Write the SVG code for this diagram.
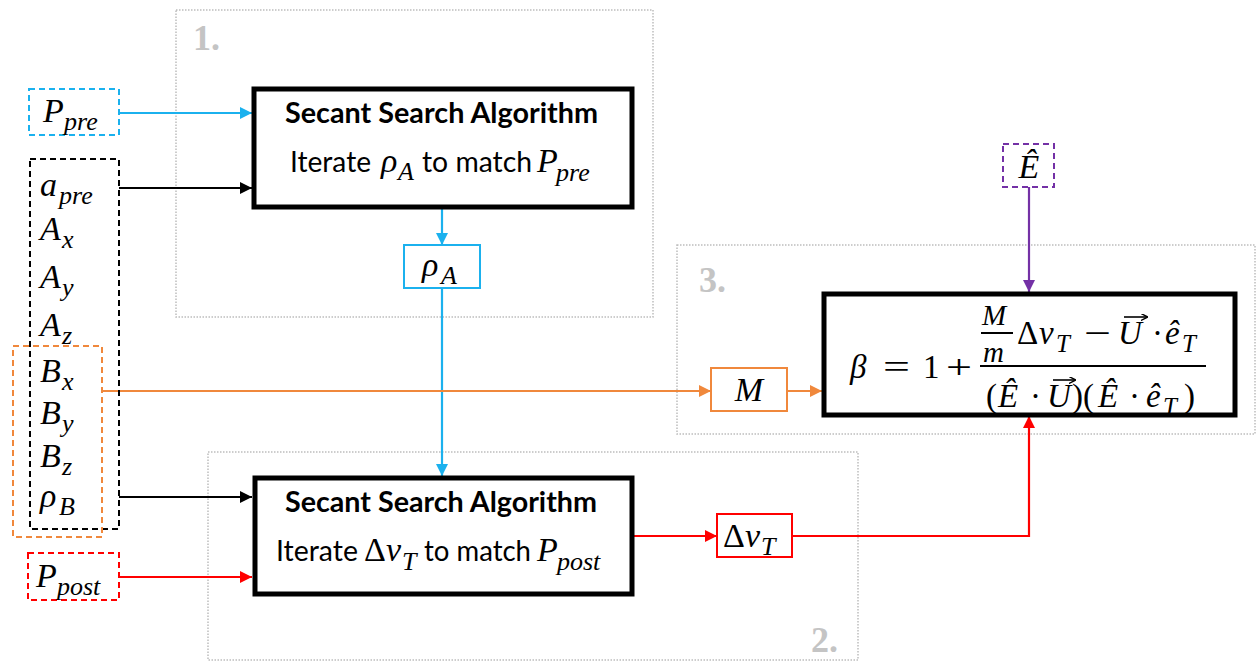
<svg xmlns="http://www.w3.org/2000/svg" width="1257" height="662" viewBox="0 0 1257 662">
<defs>
<style>
.region{fill:none;stroke:#bdbdbd;stroke-width:1.5;stroke-dasharray:1.5 1.5}
.rlabel{font-family:"Liberation Serif",serif;font-weight:bold;font-size:36px;fill:#c4c4c4}
.algo{fill:#fff;stroke:#000;stroke-width:5}
.sans{font-family:Lato,"Open Sans",sans-serif;font-size:28px;fill:#000}
.bold{font-weight:bold}
.m{font-family:"Liberation Serif",serif;font-style:italic;font-size:34px;fill:#000}
.u{font-family:"Liberation Serif",serif;font-style:normal;font-size:34px;fill:#000}
.s{font-size:26px}
.f{font-size:33px}
.fr{font-size:29px}
.fs{font-size:25px}
.dash{fill:#fff;stroke-width:2;stroke-dasharray:6 4}
.ln{fill:none;stroke-width:2.2}
</style>
<marker id="ab" viewBox="0 0 10 10" refX="10" refY="5" markerWidth="12" markerHeight="12" markerUnits="userSpaceOnUse" orient="auto"><path d="M0,0L10,5L0,10z" fill="#1bb1ee"/></marker>
<marker id="ak" viewBox="0 0 10 10" refX="10" refY="5" markerWidth="12" markerHeight="12" markerUnits="userSpaceOnUse" orient="auto"><path d="M0,0L10,5L0,10z" fill="#000"/></marker>
<marker id="ao" viewBox="0 0 10 10" refX="10" refY="5" markerWidth="12" markerHeight="12" markerUnits="userSpaceOnUse" orient="auto"><path d="M0,0L10,5L0,10z" fill="#f0883c"/></marker>
<marker id="ar" viewBox="0 0 10 10" refX="10" refY="5" markerWidth="12" markerHeight="12" markerUnits="userSpaceOnUse" orient="auto"><path d="M0,0L10,5L0,10z" fill="#ff0000"/></marker>
<marker id="ap" viewBox="0 0 10 10" refX="10" refY="5" markerWidth="12" markerHeight="12" markerUnits="userSpaceOnUse" orient="auto"><path d="M0,0L10,5L0,10z" fill="#7431a6"/></marker>
<marker id="vec" viewBox="0 0 8 8" refX="7" refY="4" markerWidth="7" markerHeight="7" markerUnits="userSpaceOnUse" orient="auto"><path d="M0,0L8,4L0,8" fill="none" stroke="#000" stroke-width="1.6"/></marker>
</defs>
<rect width="1257" height="662" fill="#fff"/>

<g id="region1">
<rect class="region" x="176" y="10" width="477" height="307"/>
<text class="rlabel" x="193" y="50">1.</text>
</g>
<g id="region2">
<rect class="region" x="208" y="452" width="650" height="208"/>
<text class="rlabel" x="811" y="652">2.</text>
</g>
<g id="region3">
<rect class="region" x="677" y="245" width="578" height="189"/>
<text class="rlabel" x="699" y="292">3.</text>
</g>

<g id="connectors">
<line class="ln" stroke="#1bb1ee" x1="119" y1="113" x2="252" y2="113" marker-end="url(#ab)"/>
<line class="ln" stroke="#000" x1="119" y1="188" x2="252" y2="188" marker-end="url(#ak)"/>
<line class="ln" stroke="#1bb1ee" x1="442" y1="209" x2="442" y2="245" marker-end="url(#ab)"/>
<line class="ln" stroke="#1bb1ee" x1="442" y1="288" x2="442" y2="476" marker-end="url(#ab)"/>
<line class="ln" stroke="#f0883c" x1="102" y1="391" x2="711" y2="391" marker-end="url(#ao)"/>
<line class="ln" stroke="#f0883c" x1="787" y1="391" x2="822" y2="391" marker-end="url(#ao)"/>
<line class="ln" stroke="#000" x1="119" y1="497" x2="252" y2="497" marker-end="url(#ak)"/>
<line class="ln" stroke="#ff0000" x1="119" y1="577" x2="252" y2="577" marker-end="url(#ar)"/>
<line class="ln" stroke="#ff0000" x1="633" y1="536" x2="717" y2="536" marker-end="url(#ar)"/>
<polyline class="ln" stroke="#ff0000" points="792,536 1029,536 1029,416" marker-end="url(#ar)"/>
<line class="ln" stroke="#7431a6" x1="1029" y1="187" x2="1029" y2="292" marker-end="url(#ap)"/>
</g>

<g id="P_pre">
<rect class="dash" stroke="#1bb1ee" x="29" y="89" width="90" height="46"/>
<text class="m" x="43" y="122">P<tspan class="s" x="64" y="130">pre</tspan></text>
</g>

<g id="params_A">
<rect class="dash" stroke="#000" x="30" y="159" width="89" height="370" style="fill:none"/>
</g>
<g id="params_B">
<rect class="dash" stroke="#f0883c" x="13" y="346" width="89" height="191" style="fill:none"/>
</g>
<g id="param_labels">
<text class="m" x="40" y="196">a<tspan class="s" x="59" y="204">pre</tspan></text>
<text class="m" x="40" y="240">A<tspan class="s" x="62" y="248">x</tspan></text>
<text class="m" x="40" y="288">A<tspan class="s" x="62" y="296">y</tspan></text>
<text class="m" x="40" y="336">A<tspan class="s" x="62" y="344">z</tspan></text>
<text class="m" x="40" y="382">B<tspan class="s" x="62" y="390">x</tspan></text>
<text class="m" x="40" y="424">B<tspan class="s" x="62" y="432">y</tspan></text>
<text class="m" x="40" y="467">B<tspan class="s" x="62" y="475">z</tspan></text>
<text class="m" x="40" y="507">ρ<tspan class="s" x="59" y="515">B</tspan></text>
</g>

<g id="P_post">
<rect class="dash" stroke="#ff0000" x="28" y="553" width="91" height="47"/>
<text class="m" x="36" y="587">P<tspan class="s" x="57" y="595">post</tspan></text>
</g>

<g id="secant1">
<rect class="algo" x="254" y="89" width="378" height="118"/>
<text class="sans bold" x="285" y="123" textLength="313" lengthAdjust="spacingAndGlyphs">Secant Search Algorithm</text>
<text class="sans" x="290" y="172" textLength="81" lengthAdjust="spacingAndGlyphs">Iterate</text>
<text class="m" x="381" y="172">ρ<tspan class="s" x="398" y="180">A</tspan></text>
<text class="sans" x="422" y="172" textLength="110" lengthAdjust="spacingAndGlyphs">to match</text>
<text class="m" x="537" y="172">P<tspan class="s" x="556" y="181">pre</tspan></text>
</g>

<g id="rho_A">
<rect fill="#fff" stroke="#1bb1ee" stroke-width="2" x="404" y="245" width="76" height="43"/>
<text class="m" x="422" y="276">ρ<tspan class="s" x="441" y="284">A</tspan></text>
</g>

<g id="secant2">
<rect class="algo" x="255" y="478" width="377" height="116"/>
<text class="sans bold" x="285" y="512" textLength="312" lengthAdjust="spacingAndGlyphs">Secant Search Algorithm</text>
<text class="sans" x="276" y="561" textLength="82" lengthAdjust="spacingAndGlyphs">Iterate</text>
<text class="u" x="364" y="561">Δ</text><text class="m" x="386" y="561">v<tspan class="s" x="402" y="570">T</tspan></text>
<text class="sans" x="424" y="561" textLength="107" lengthAdjust="spacingAndGlyphs">to match</text>
<text class="m" x="537" y="561">P<tspan class="s" x="557" y="570">post</tspan></text>
</g>

<g id="delta_vT">
<rect fill="#fff" stroke="#ff0000" stroke-width="2" x="717" y="514" width="75" height="43"/>
<text class="u" x="723" y="547">Δ</text><text class="m" x="745" y="547">v<tspan class="s" x="761" y="555">T</tspan></text>
</g>

<g id="M">
<rect fill="#fff" stroke="#f0883c" stroke-width="2" x="711" y="368" width="76" height="43"/>
<text class="m" x="749" y="401" text-anchor="middle">M</text>
</g>

<g id="E_hat">
<rect class="dash" stroke="#7431a6" x="1003" y="144" width="51" height="43"/>
<text class="m" x="1029" y="178" text-anchor="middle">Ê</text>
</g>

<g id="beta_formula">
<rect class="algo" x="824" y="294" width="411" height="121"/>
<text class="m f" x="850" y="378">β</text>
<text class="u f" x="883" y="378" textLength="27" lengthAdjust="spacingAndGlyphs">=</text>
<text class="u f" x="923" y="378">1</text>
<text class="u f" x="946" y="378" textLength="26" lengthAdjust="spacingAndGlyphs">+</text>
<text class="m fr" x="982" y="325">M</text>
<line x1="981" y1="333" x2="1013" y2="333" stroke="#000" stroke-width="2"/>
<text class="m fr" x="983" y="362">m</text>
<text class="u f" x="1017" y="344">Δ</text>
<text class="m f" x="1039" y="344">v<tspan class="fs" x="1056" y="352">T</tspan></text>
<text class="u f" x="1084" y="344" textLength="27" lengthAdjust="spacingAndGlyphs">−</text>
<text class="m f" x="1118" y="344">U</text>
<line x1="1124" y1="317" x2="1147" y2="317" stroke="#000" stroke-width="1.6" marker-end="url(#vec)"/>
<text class="u f" x="1152" y="344">·</text>
<text class="m f" x="1165" y="344">ê<tspan class="fs" x="1182" y="352">T</tspan></text>
<line x1="980" y1="366" x2="1206" y2="366" stroke="#000" stroke-width="2"/>
<text class="u f" x="986" y="407">(</text>
<text class="m f" x="998" y="407">Ê</text>
<text class="u f" x="1030" y="407">·</text>
<text class="m f" x="1047" y="407">U</text>
<line x1="1053" y1="380" x2="1075" y2="380" stroke="#000" stroke-width="1.6" marker-end="url(#vec)"/>
<text class="u f" x="1072" y="407">)(</text>
<text class="m f" x="1098" y="407">Ê</text>
<text class="u f" x="1129" y="407">·</text>
<text class="m f" x="1146" y="407">ê<tspan class="fs" x="1163" y="415">T</tspan></text>
<text class="u f" x="1184" y="407">)</text>
</g>
</svg>
